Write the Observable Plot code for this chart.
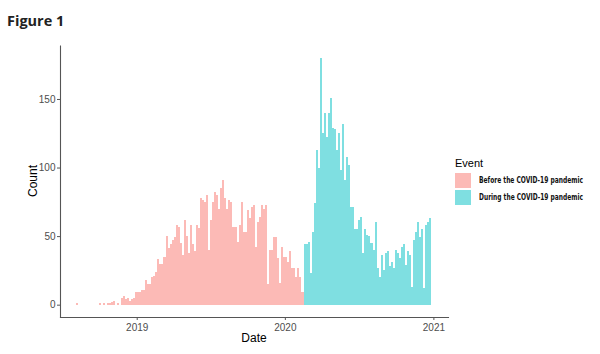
<!DOCTYPE html>
<html>
<head>
<meta charset="utf-8">
<script src="https://cdn.jsdelivr.net/npm/d3@7"></script>
<script src="https://cdn.jsdelivr.net/npm/@observablehq/plot@0.6"></script>
<style>
  html, body { margin: 0; padding: 0; background: #fff; }
  body { width: 600px; height: 354px; position: relative; overflow: hidden; font-family: "Liberation Sans", Arial, sans-serif; }
  #title { position: absolute; left: 7px; top: 11px; font: bold 14.5px "Open Sans", sans-serif; color: #222; white-space: nowrap; }
  #chart { position: absolute; left: 0; top: 34px; }
  #ylab { position: absolute; left: 33px; top: 181px; transform: translate(-50%, -50%) rotate(-90deg); font-size: 12px; color: #000; white-space: nowrap; }
  #xlab { position: absolute; left: 254px; top: 338px; transform: translate(-50%, -50%); font-size: 12px; color: #000; white-space: nowrap; }
  #legend-title { position: absolute; left: 455px; top: 157px; font-size: 11px; color: #000; white-space: nowrap; }
  .key { position: absolute; left: 455px; width: 16px; height: 15px; }
  .key-label { position: absolute; left: 479px; font: bold 8.5px "DejaVu Sans Condensed", "Liberation Sans", sans-serif; color: #111; white-space: nowrap; transform-origin: 0 50%; line-height: 1; }
  #chart svg text { font-family: "Liberation Sans", Arial, sans-serif; }
</style>
</head>
<body>
<div id="title">Figure 1</div>
<div id="chart"></div>
<div id="ylab">Count</div>
<div id="xlab">Date</div>
<div id="legend-title">Event</div>
<div id="legend"></div>
<script>
// ---- data ----
const events = ["Before the COVID-19 pandemic", "During the COVID-19 pandemic"];
const colors = ["#FCBAB6", "#7FDFE1"];
const firstBinStart = "2018-08-05";   // start of first bin
const binDays = 5;                     // bin width in days
const beforeCounts = [
  1,0,0,0,0,0,0,0,0,0,
  0,1,0,1,0,1,1,2,3,0,
  1,0,5,6,4,5,3,4,5,9,
  9,9,11,11,18,15,15,20,21,24,
  33,30,30,35,50,41,44,47,49,58,
  57,45,36,62,50,38,58,44,39,58,
  56,78,76,75,80,40,62,75,82,80,
  70,85,91,78,70,76,75,57,57,46,
  58,75,53,53,69,63,71,73,42,60,
  64,73,70,73,15,40,40,49,49,34,
  16,42,35,35,31,39,27,27,20,27,
  20,9
];
const duringCounts = [
  44,44,46,23,53,74,113,100,180,125,
  140,122,140,151,129,128,113,125,98,132,
  91,108,102,71,71,55,55,62,64,38,
  55,51,50,45,40,60,27,20,36,25,
  38,39,28,31,27,40,38,34,42,44,
  29,39,36,13,47,53,60,49,55,12,
  58,60,63
];
const xDomain = ["2018-06-26", "2021-02-06"];
const xTicks = ["2019-01-01", "2020-01-01", "2021-01-01"];
const yDomain = [-9, 189];
const yTicks = [0, 50, 100, 150];

// ---- build table ----
const start = new Date(firstBinStart + "T00:00:00Z");
const rows = [];
beforeCounts.concat(duringCounts).forEach((c, i) => {
  const x1 = d3.utcDay.offset(start, i * binDays);
  const x2 = d3.utcDay.offset(start, (i + 1) * binDays);
  rows.push({x1, x2, count: c, event: i < beforeCounts.length ? events[0] : events[1]});
});

const axisColor = "#555";
const tickText = "#4D4D4D";

const chart = Plot.plot({
  width: 600,
  height: 320,
  marginLeft: 60,
  marginRight: 152,
  marginTop: 11.5,
  marginBottom: 37,
  style: {background: "transparent", fontSize: "10px"},
  x: {type: "utc", domain: xDomain.map(d => new Date(d + "T00:00:00Z"))},
  y: {domain: yDomain},
  color: {domain: events, range: colors},
  marks: [
    Plot.rectY(rows, {x1: "x1", x2: "x2", y: "count", fill: "event", shapeRendering: "crispEdges"}),
    Plot.frame({anchor: "bottom", stroke: axisColor, strokeWidth: 1.1}),
    Plot.frame({anchor: "left", stroke: axisColor, strokeWidth: 1.1}),
    Plot.axisX({ticks: xTicks.map(d => new Date(d + "T00:00:00Z")), tickFormat: d3.utcFormat("%Y"), tickSize: 3, tickPadding: 3, stroke: axisColor, color: tickText, label: null, fontSize: 10}),
    Plot.axisY({ticks: yTicks, tickSize: 3, tickPadding: 2, stroke: axisColor, color: tickText, label: null, fontSize: 10})
  ]
});
document.getElementById("chart").appendChild(chart);

// ---- legend ----
const legend = document.getElementById("legend");
const keyTops = [173, 189.5];
const labelWidth = 104;
events.forEach((e, i) => {
  const k = document.createElement("div");
  k.className = "key";
  k.style.top = keyTops[i] + "px";
  k.style.background = colors[i];
  legend.appendChild(k);
  const t = document.createElement("div");
  t.className = "key-label";
  t.textContent = e;
  legend.appendChild(t);
  const w = t.getBoundingClientRect().width;
  const h = t.getBoundingClientRect().height;
  t.style.top = (keyTops[i] + 7.5 - h / 2) + "px";
  t.style.transform = `scaleX(${Math.min(1.2, labelWidth / w)})`;
});
</script>
</body>
</html>
